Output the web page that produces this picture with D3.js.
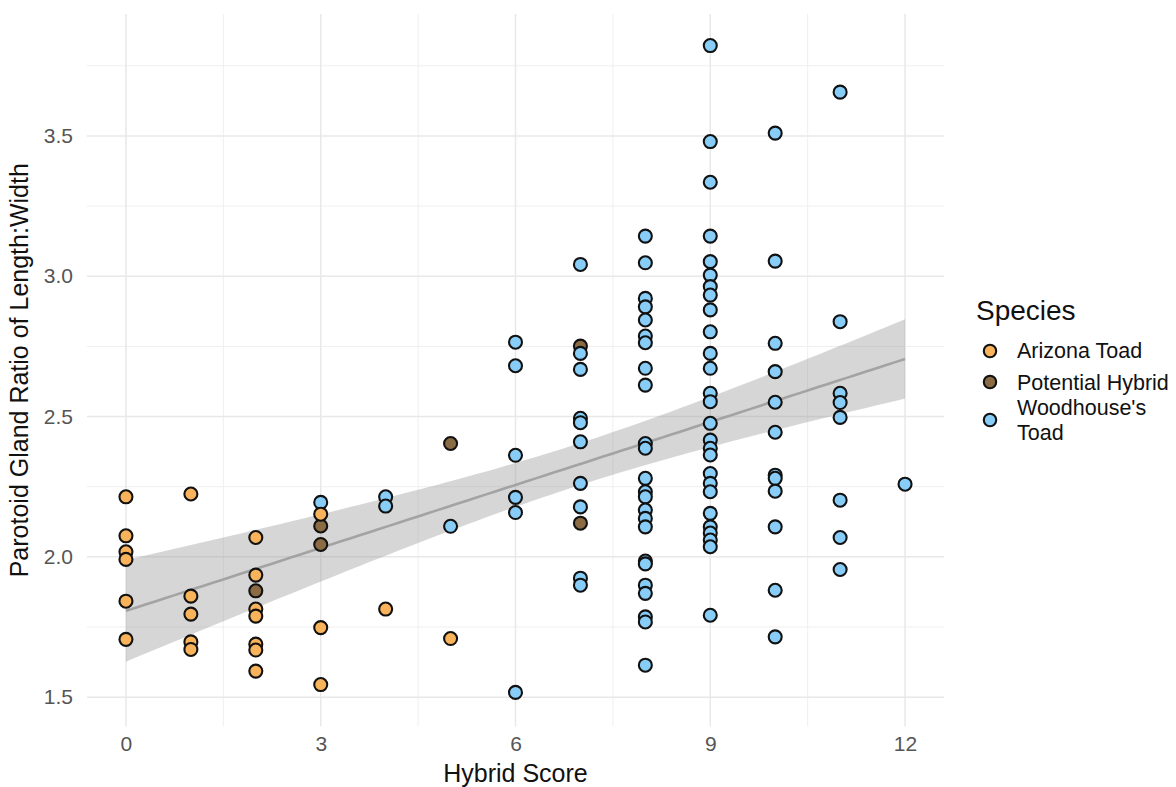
<!DOCTYPE html>
<html>
<head>
<meta charset="utf-8">
<script src="https://cdn.jsdelivr.net/npm/d3@7"></script>
<style>
  html, body { margin: 0; padding: 0; background: #ffffff; }
  svg { display: block; font-family: "Liberation Sans", Arial, Helvetica, sans-serif; }
</style>
</head>
<body>
<svg id="chart" width="1176" height="787"></svg>
<script>
// Hybrid score and parotoid gland length:width ratio, one pair of arrays per group
const arizonaScore = [0,0,0,0,0,0, 1,1,1,1,1, 2,2,2,2,2,2,2, 3,3,3, 4, 5];
const arizonaRatio = [2.214,2.075,2.018,1.991,1.842,1.706,
                      2.224,1.860,1.796,1.697,1.670,
                      2.069,1.935,1.814,1.789,1.689,1.668,1.593,
                      2.152,1.748,1.545,
                      1.814,
                      1.709];

const hybridScore = [2, 3,3, 5, 7,7];
const hybridRatio = [1.879, 2.110,2.044, 2.404, 2.751,2.120];

const woodhouseScore = [3, 4,4, 5,
  6,6,6,6,6,6,
  7,7,7,7,7,7,7,7,7,7,
  8,8,8,8,8,8,8,8,8,8,8,8,8,8,8,8,8,8,8,8,8,8,8,8,
  9,9,9,9,9,9,9,9,9,9,9,9,9,9,9,9,9,9,9,9,9,9,9,9,9,9,9,
  10,10,10,10,10,10,10,10,10,10,10,10,
  11,11,11,11,11,11,11,11,
  12];
const woodhouseRatio = [2.194, 2.214,2.181, 2.109,
  2.765,2.681,2.362,2.212,2.158,1.517,
  3.042,2.725,2.668,2.494,2.478,2.410,2.262,2.178,1.924,1.899,
  3.143,3.048,2.921,2.891,2.844,2.787,2.763,2.672,2.612,2.404,2.387,2.280,
  2.232,2.214,2.167,2.137,2.107,1.985,1.975,1.899,1.870,1.786,1.768,1.614,
  3.822,3.480,3.335,3.143,3.052,3.004,2.963,2.933,2.880,2.802,2.725,2.672,2.583,2.553,
  2.476,2.416,2.387,2.363,2.297,2.262,2.232,2.155,2.107,2.085,2.060,2.036,1.792,
  3.510,3.054,2.761,2.660,2.551,2.444,2.291,2.280,2.234,2.107,1.881,1.715,
  3.656,2.838,2.583,2.550,2.497,2.202,2.069,1.955,
  2.259];

const speciesNames  = ["Arizona Toad", "Potential Hybrid", "Woodhouse's Toad"];
const speciesColors = ["#f9b35a", "#8b6b43", "#87cdf7"];

const xTicks = [0, 3, 6, 9, 12];
const xMinor = [1.5, 4.5, 7.5, 10.5];
const yTicks = [1.5, 2.0, 2.5, 3.0, 3.5];
const yMinor = [1.75, 2.25, 2.75, 3.25, 3.75];

// ---------- layout ----------
const panel = { left: 87, right: 944, top: 14, bottom: 726.5 };

const x = d3.scaleLinear().domain([-0.6, 12.6]).range([panel.left, panel.right]);
const y = d3.scaleLinear().domain([1.3955, 3.9345]).range([panel.bottom, panel.top]);

const svg = d3.select("#chart");

// ---------- grid ----------
const grid = svg.append("g");
grid.selectAll(".xminor").data(xMinor).join("line")
  .attr("x1", d => x(d)).attr("x2", d => x(d))
  .attr("y1", panel.top).attr("y2", panel.bottom)
  .attr("stroke", "#efefef").attr("stroke-width", 1);
grid.selectAll(".yminor").data(yMinor).join("line")
  .attr("y1", d => y(d)).attr("y2", d => y(d))
  .attr("x1", panel.left).attr("x2", panel.right)
  .attr("stroke", "#efefef").attr("stroke-width", 1);
grid.selectAll(".xmajor").data(xTicks).join("line")
  .attr("x1", d => x(d)).attr("x2", d => x(d))
  .attr("y1", panel.top).attr("y2", panel.bottom)
  .attr("stroke", "#e8e8e8").attr("stroke-width", 1.5);
grid.selectAll(".ymajor").data(yTicks).join("line")
  .attr("y1", d => y(d)).attr("y2", d => y(d))
  .attr("x1", panel.left).attr("x2", panel.right)
  .attr("stroke", "#e8e8e8").attr("stroke-width", 1.5);

// ---------- axes (labels only, no domain line or ticks) ----------
const xAxis = svg.append("g")
  .attr("transform", `translate(0,${panel.bottom})`)
  .call(d3.axisBottom(x).tickValues(xTicks).tickFormat(d3.format("d")).tickSize(0).tickPadding(10));
xAxis.select(".domain").remove();
xAxis.selectAll("text").attr("font-size", 21).attr("fill", "#555555")
  .attr("font-family", "'Liberation Sans', Arial, sans-serif");

const yAxis = svg.append("g")
  .attr("transform", `translate(${panel.left},0)`)
  .call(d3.axisLeft(y).tickValues(yTicks).tickFormat(d3.format(".1f")).tickSize(0).tickPadding(14));
yAxis.select(".domain").remove();
yAxis.selectAll("text").attr("font-size", 21).attr("fill", "#555555")
  .attr("font-family", "'Liberation Sans', Arial, sans-serif");

// ---------- linear fit with 95% confidence band ----------
const allX = arizonaScore.concat(hybridScore, woodhouseScore);
const allY = arizonaRatio.concat(hybridRatio, woodhouseRatio);
const n = allX.length;
const xBar = d3.mean(allX), yBar = d3.mean(allY);
const sxx = d3.sum(allX, v => (v - xBar) ** 2);
const sxy = d3.sum(allX.map((v, i) => (v - xBar) * (allY[i] - yBar)));
const slope = sxy / sxx;
const intercept = yBar - slope * xBar;
const rss = d3.sum(allX.map((v, i) => (allY[i] - (intercept + slope * v)) ** 2));
const sigma = Math.sqrt(rss / (n - 2));
const tCrit = 1.978;

const xMinData = d3.min(allX), xMaxData = d3.max(allX);
const fitPts = d3.range(0, 81).map(i => {
  const xv = xMinData + (xMaxData - xMinData) * i / 80;
  const fit = intercept + slope * xv;
  const se = sigma * Math.sqrt(1 / n + (xv - xBar) ** 2 / sxx);
  return { x: xv, fit, lo: fit - tCrit * se, hi: fit + tCrit * se };
});

svg.append("path")
  .datum(fitPts)
  .attr("d", d3.area().x(d => x(d.x)).y0(d => y(d.lo)).y1(d => y(d.hi)))
  .attr("fill", "#999999").attr("fill-opacity", 0.4);

svg.append("path")
  .datum(fitPts)
  .attr("d", d3.line().x(d => x(d.x)).y(d => y(d.fit)))
  .attr("fill", "none").attr("stroke", "#a3a3a3").attr("stroke-width", 2.6);

// ---------- points ----------
const groups = [
  { score: hybridScore, ratio: hybridRatio, color: speciesColors[1] },
  { score: woodhouseScore, ratio: woodhouseRatio, color: speciesColors[2] },
  { score: arizonaScore, ratio: arizonaRatio, color: speciesColors[0] }
];
const pts = svg.append("g");
groups.forEach(g => {
  pts.append("g").selectAll("circle")
    .data(g.score.map((s, i) => ({ s, r: g.ratio[i] })))
    .join("circle")
    .attr("cx", d => x(d.s))
    .attr("cy", d => y(d.r))
    .attr("r", 6.5)
    .attr("fill", g.color)
    .attr("stroke", "#111111")
    .attr("stroke-width", 2.1);
});

// ---------- axis titles ----------
svg.append("text")
  .attr("x", (panel.left + panel.right) / 2).attr("y", 781.5)
  .attr("text-anchor", "middle").attr("font-size", 25).attr("fill", "#111")
  .text("Hybrid Score");

svg.append("text")
  .attr("transform", `translate(28,${(panel.top + panel.bottom) / 2}) rotate(-90)`)
  .attr("text-anchor", "middle").attr("font-size", 25).attr("fill", "#111")
  .text("Parotoid Gland Ratio of Length:Width");

// ---------- legend ----------
const legend = svg.append("g");
legend.append("text")
  .attr("x", 976).attr("y", 320)
  .attr("font-size", 28).attr("fill", "#111")
  .text("Species");

const keyY = [351, 382, 420];
const labelLines = [["Arizona Toad"], ["Potential Hybrid"], ["Woodhouse's", "Toad"]];
const firstBaseline = [358, 389.5, 415];

speciesNames.forEach((name, i) => {
  legend.append("circle")
    .attr("cx", 990).attr("cy", keyY[i]).attr("r", 6.2)
    .attr("fill", speciesColors[i]).attr("stroke", "#111").attr("stroke-width", 2.1);
  labelLines[i].forEach((line, j) => {
    legend.append("text")
      .attr("x", 1017).attr("y", firstBaseline[i] + j * 24.6)
      .attr("font-size", 21.5).attr("fill", "#111")
      .text(line);
  });
});
</script>
</body>
</html>
